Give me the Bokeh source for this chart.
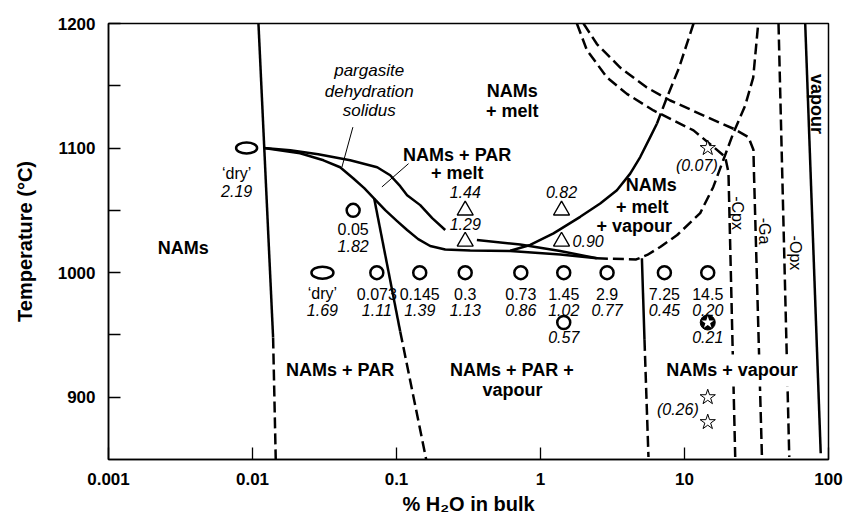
import numpy as np
from bokeh.plotting import figure
from bokeh.models import FixedTicker, CustomJSTickFormatter, Range1d
from bokeh.core.properties import value
from bokeh.embed import file_html
from bokeh.resources import INLINE

FONT = "Liberation Sans"

# ---------------- axes ----------------
x_ticks = [0.001, 0.01, 0.1, 1, 10, 100]
x_tick_labels = ["0.001", "0.01", "0.1", "1", "10", "100"]
y_ticks = [900, 1000, 1100, 1200]
y_minor_ticks = [950, 1050, 1150]

# ---------------- phase boundaries (% H2O in bulk, T in °C) ----------------
# anhydrous solidus (solid above, inferred below)
dry_solidus_h2o = [0.0110, 0.0139]
dry_solidus_t = [1200, 948]
dry_solidus_low_h2o = [0.0139, 0.0145]
dry_solidus_low_t = [948, 850]

# upper branch of the pargasite dehydration solidus (broken around the 1.29 label)
par_upper_h2o_a = [0.0120, 0.0183, 0.0286, 0.0477, 0.0734, 0.0904, 0.1061, 0.1185, 0.1461, 0.1770, 0.2179]
par_upper_t_a = [1100, 1098.2, 1095, 1090.2, 1084.6, 1078.2, 1069.4, 1062.2, 1054.2, 1043.8, 1034.2]
par_upper_h2o_b = [0.3616, 0.7228, 1.370, 2.464]
par_upper_t_b = [1026.2, 1022.6, 1017.4, 1011.5]

# lower branch of the pargasite dehydration solidus
par_lower_h2o = [0.0120, 0.0214, 0.0311, 0.0406, 0.0500, 0.0597, 0.0700, 0.0835, 0.1010,
                 0.1185, 0.1415, 0.1714, 0.2179, 0.325, 0.616, 1.370, 2.464]
par_lower_t = [1100, 1095.8, 1090.2, 1084.6, 1075.8, 1067.8, 1059.5, 1050.2, 1041.4,
               1034.2, 1026.9, 1021.4, 1018.6, 1017.8, 1017.4, 1014.6, 1011.5]

# pargasite-out boundary
par_out_h2o = [0.0700, 0.1061]
par_out_t = [1059.5, 952.8]
par_out_low_h2o = [0.1061, 0.1608]
par_out_low_t = [952.8, 850]

# vapour-saturation boundary
vap_sat_h2o = [2.464, 4.62, 5.508, 6.782, 8.898, 12.85, 15.82, 18.57, 21.79, 26.40, 30.0, 32.5]
vap_sat_t = [1011.5, 1010.6, 1014.2, 1020.6, 1030.2, 1047.8, 1068.6, 1090.2, 1111.8, 1134.2, 1156.6, 1200]

# vapour-in boundary below the solidus
vap_in_h2o = [5.06, 5.275]
vap_in_t = [1011.5, 946]
vap_in_low_h2o = [5.275, 5.62]
vap_in_low_t = [946, 852]

# melt-in boundary (solid, then inferred)
melt_h2o = [0.616, 0.848, 1.231, 1.887, 2.598, 3.394, 4.196, 4.925, 5.78, 6.43]
melt_t = [1017.6, 1022.2, 1031.5, 1044.8, 1055.5, 1066.2, 1079.5, 1092.8, 1108.8, 1119.5]
melt_up_h2o = [6.43, 7.4, 9.2, 11.55]
melt_up_t = [1119.5, 1138, 1165, 1200]

# mineral-out boundaries
cpx_out_h2o = [1.789, 2.10, 2.89, 3.98, 6.09, 11.55, 15.9, 19.17, 20.2, 22.5]
cpx_out_t = [1200, 1178.6, 1156.8, 1143.5, 1130.2, 1114.2, 1100.9, 1092.9, 1080.4, 852]
ga_out_h2o = [1.989, 2.464, 3.578, 5.48, 7.96, 14.3, 21.9, 27.8, 30.1, 30.4, 34.5]
ga_out_t = [1200, 1183.5, 1164.6, 1148.6, 1138.2, 1125, 1115.5, 1108.8, 1098.6, 1078.2, 852]
opx_out_h2o = [44.97, 53.4]
opx_out_t = [1200, 852]
vapour_h2o = [68.9, 88.3]
vapour_t = [1200, 855]

# ---------------- experiments ----------------
# anhydrous runs
dry_h2o = [0.0091, 0.0306]
dry_t = [1100, 1000]
dry_name = ["\u2018dry\u2019", "\u2018dry\u2019"]
dry_val = ["2.19", "1.69"]

# hydrous runs (circles)
run_h2o = [0.05, 0.073, 0.145, 0.3, 0.73, 1.45, 2.9, 7.25, 14.5]
run_t = [1050, 1000, 1000, 1000, 1000, 1000, 1000, 1000, 1000]
run_name = ["0.05", "0.073", "0.145", "0.3", "0.73", "1.45", "2.9", "7.25", "14.5"]
run_val = ["1.82", "1.11", "1.39", "1.13", "0.86", "1.02", "0.77", "0.45", "0.20"]

low_run_h2o = [1.45]
low_run_t = [960]
low_run_val = ["0.57"]

star_run_h2o = [14.5]
star_run_t = [960]
star_run_val = ["0.21"]

# triangle runs
tri_h2o = [0.3, 0.3, 1.4]
tri_t = [1050, 1025, 1050]
tri_val = ["1.44", "1.29", "0.82"]
tri_side_h2o = [1.4]
tri_side_t = [1025]
tri_side_val = ["0.90"]

# star runs
star_h2o = [14.5, 14.5, 14.5]
star_t = [1100, 900, 880]
star_top_val = ["(0.07)"]
star_low_val = ["(0.26)"]

# ---------------- figure ----------------
p = figure(width=844, height=524, x_axis_type="log",
           x_range=Range1d(0.001, 100), y_range=Range1d(850, 1200),
           output_backend="svg", toolbar_location=None,
           min_border_left=108, min_border_right=16, min_border_top=23, min_border_bottom=65)
p.background_fill_color = "white"
p.border_fill_color = "white"
p.xgrid.visible = False
p.ygrid.visible = False
p.outline_line_color = "black"
p.outline_line_width = 1.5
p.outline_line_alpha = 1.0

p.xaxis.ticker = FixedTicker(ticks=x_ticks, minor_ticks=[])
p.xaxis.formatter = CustomJSTickFormatter(args=dict(tick_vals=x_ticks, tick_text=x_tick_labels), code="""
    let best = 0, d = Infinity;
    for (let i = 0; i < tick_vals.length; i++) {
        const e = Math.abs(Math.log10(tick) - Math.log10(tick_vals[i]));
        if (e < d) { d = e; best = i; }
    }
    return tick_text[best];
""")
p.yaxis.ticker = FixedTicker(ticks=y_ticks, minor_ticks=y_minor_ticks)

for ax in (p.xaxis[0], p.yaxis[0]):
    ax.axis_line_color = "black"
    ax.axis_line_width = 1.5
    ax.major_tick_line_color = "black"
    ax.major_tick_line_width = 1.3
    ax.minor_tick_line_color = "black"
    ax.minor_tick_line_width = 1.3
    ax.major_tick_out = 0
    ax.minor_tick_out = 0
    ax.major_tick_in = 12
    ax.major_label_text_font = FONT
    ax.major_label_text_font_size = "17px"
    ax.major_label_text_font_style = "bold"
    ax.major_label_text_color = "black"
    ax.axis_label_text_font = FONT
    ax.axis_label_text_font_size = "20px"
    ax.axis_label_text_font_style = "bold"
    ax.axis_label_text_color = "black"

p.xaxis.minor_tick_in = 0
p.yaxis.minor_tick_in = 12
p.xaxis.major_label_standoff = 13
p.yaxis.major_label_standoff = 13
p.xaxis.axis_label = "% H\u2082O in bulk"
p.yaxis.axis_label = "Temperature (\u00b0C)"
p.xaxis.axis_label_standoff = 5
p.yaxis.axis_label_standoff = 19

LW = 2.5
DASH = "11 5"


def solid(xs, ys, w=LW):
    p.line(xs, ys, line_color="black", line_width=w, line_cap="butt", line_join="round")


def dashed(xs, ys, w=LW):
    p.line(xs, ys, line_color="black", line_width=w, line_dash=DASH, line_join="round")


solid(dry_solidus_h2o, dry_solidus_t)
dashed(dry_solidus_low_h2o, dry_solidus_low_t)
solid(par_upper_h2o_a, par_upper_t_a)
solid(par_upper_h2o_b, par_upper_t_b)
solid(par_lower_h2o, par_lower_t)
solid(par_out_h2o, par_out_t)
dashed(par_out_low_h2o, par_out_low_t)
dashed(vap_sat_h2o, vap_sat_t)
solid(vap_in_h2o, vap_in_t)
dashed(vap_in_low_h2o, vap_in_low_t)
solid(melt_h2o, melt_t)
dashed(melt_up_h2o, melt_up_t)
dashed(cpx_out_h2o, cpx_out_t)
dashed(ga_out_h2o, ga_out_t)
dashed(opx_out_h2o, opx_out_t)
solid(vapour_h2o, vapour_t)

# leader lines from the annotation text
p.line([0.0498, 0.0418], [1116.8, 1084.8], line_color="black", line_width=1)
p.line([0.1212, 0.0792], [1087.5, 1068.8], line_color="black", line_width=1)

# white box behind the "NAMs + vapour" field name, interrupting the dashed lines
p.rect(x=[21.4], y=[921.5], width=[140], height=[32], width_units="screen",
       height_units="screen", fill_color="white", line_color=None)

# ---------------- markers ----------------
p.ellipse(x=dry_h2o, y=dry_t, width=[21, 22], height=[11, 12],
          width_units="screen", height_units="screen",
          fill_color="white", line_color="black", line_width=2.5)
p.scatter(run_h2o, run_t, marker="circle", size=13, fill_color="white",
          line_color="black", line_width=2.5)
p.scatter(low_run_h2o, low_run_t, marker="circle", size=13, fill_color="white",
          line_color="black", line_width=2.5)
p.scatter(star_run_h2o, star_run_t, marker="circle", size=15, fill_color="black",
          line_color="black", line_width=1)
p.scatter(star_run_h2o, star_run_t, marker="star", size=13, fill_color="white",
          line_color=None)
p.scatter(tri_h2o + tri_side_h2o, tri_t + tri_side_t, marker="triangle", size=16,
          fill_color="white", line_color="black", line_width=1.4)
p.scatter(star_h2o, star_t, marker="star", size=16, fill_color="white",
          line_color="black", line_width=1)


def label(xs, ys, texts, size="16px", style="normal", align="center", dx=0, dy=0, angle=0.0):
    p.text(x=xs, y=ys, text=texts, x_offset=dx, y_offset=dy, angle=angle,
           text_font=value(FONT), text_font_size=value(size), text_font_style=value(style),
           text_align=align, text_baseline="middle", text_color="black")


# run labels
label(dry_h2o[:1], dry_t[:1], dry_name[:1], dx=-10, dy=25)
label(dry_h2o[:1], dry_t[:1], dry_val[:1], style="italic", dx=-10, dy=43)
label(dry_h2o[1:], dry_t[1:], dry_name[1:], dy=21)
label(dry_h2o[1:], dry_t[1:], dry_val[1:], style="italic", dy=37)
label(run_h2o[:1], run_t[:1], run_name[:1], dy=19)
label(run_h2o[:1], run_t[:1], run_val[:1], style="italic", dy=36)
label(run_h2o[1:], run_t[1:], run_name[1:], dy=21)
label(run_h2o[1:], run_t[1:], run_val[1:], style="italic", dy=37)
label(low_run_h2o, low_run_t, low_run_val, style="italic", dy=15)
label(star_run_h2o, star_run_t, star_run_val, style="italic", dy=15)
label(tri_h2o, tri_t, tri_val, style="italic", dy=-18)
label(tri_side_h2o, tri_side_t, tri_side_val, style="italic", align="left", dx=11, dy=-1)
label(star_h2o[:1], star_t[:1], star_top_val, style="italic", align="right", dx=10, dy=17)
label(star_h2o[1:2], star_t[1:2], star_low_val, style="italic", align="right", dx=-9, dy=12)

# field names
field_text = ["NAMs", "NAMs + PAR", "NAMs + PAR +", "vapour", "NAMs + vapour",
              "NAMs", "+ melt", "NAMs + PAR", "+ melt", "NAMs", "+ melt", "+ vapour"]
field_x = [0.0033, 0.0406, 0.632, 0.64, 21.4, 0.636, 0.636, 0.264, 0.264, 5.87, 5.09, 4.47]
field_y = [1020, 922, 921.5, 906, 921.5, 1145.5, 1129.5, 1094.5, 1080, 1070, 1052.5, 1037.5]
label(field_x, field_y, field_text, size="18px", style="bold")

label([0.0646, 0.0646, 0.0646], [1162, 1145.5, 1130],
      ["pargasite", "dehydration", "solidus"], size="17px", style="italic")

# labels along the steep boundaries
label([82.8], [1135.4], ["vapour"], size="18px", style="bold", angle=-np.pi / 2)
label([23.4, 35.8, 58.7], [1047.8, 1033.4, 1015.8], ["-Cpx", "-Ga", "-Opx"],
      size="16px", angle=-np.pi / 2)

open("out.html", "w").write(file_html(p, INLINE))
